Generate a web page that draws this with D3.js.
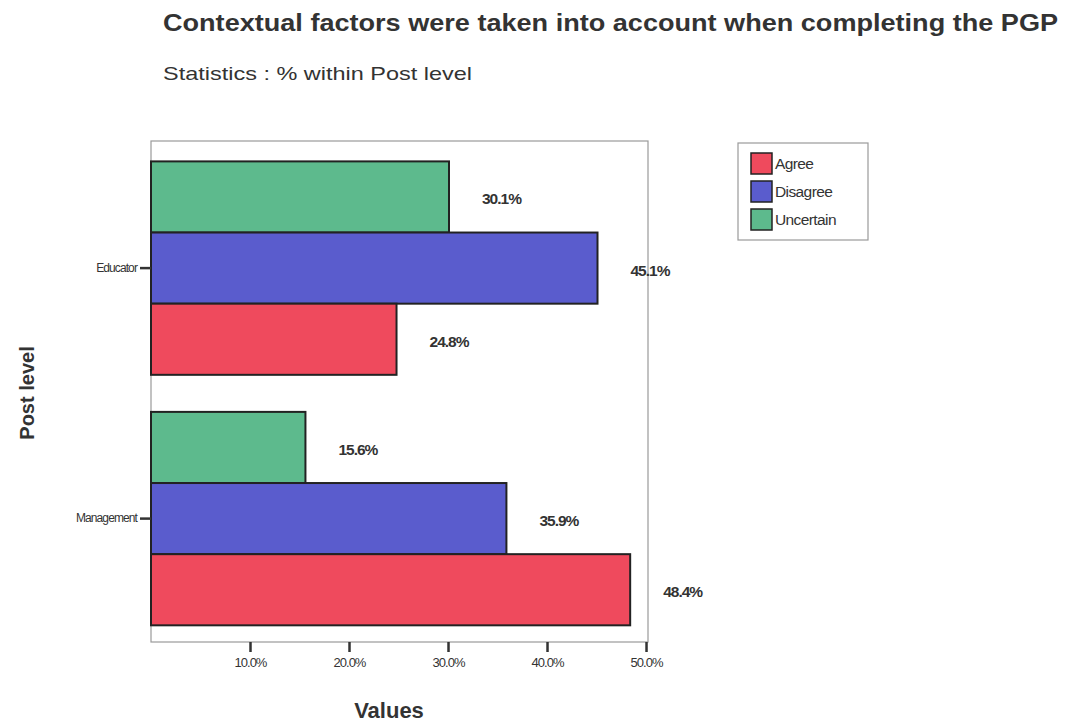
<!DOCTYPE html>
<html>
<head>
<meta charset="utf-8">
<script src="https://cdn.jsdelivr.net/npm/d3@7/dist/d3.min.js"></script>
<style>
  html, body { margin: 0; padding: 0; background: #ffffff; }
  svg { display: block; }
  text { font-family: "Liberation Sans", Arial, sans-serif; fill: #333; }
</style>
</head>
<body>
<svg id="chart" width="1069" height="722"></svg>
<script>
// Post levels (y categories) and response series
const postLevels = ["Educator", "Management"];
const responses = ["Uncertain", "Disagree", "Agree"];   // top-to-bottom order inside each group
const legendOrder = ["Agree", "Disagree", "Uncertain"];

// % within Post level
const agree     = [24.8, 48.4];
const disagree  = [45.1, 35.9];
const uncertain = [30.1, 15.6];

const xTicks = [10, 20, 30, 40, 50];

const colors = { Agree: "#ef4a5d", Disagree: "#5a5ccd", Uncertain: "#5dba8d" };

const seriesValues = { Agree: agree, Disagree: disagree, Uncertain: uncertain };
const rows = [];
postLevels.forEach((p, i) => {
  responses.forEach(r => rows.push({ level: p, response: r, value: seriesValues[r][i] }));
});

const svg = d3.select("#chart");
const frame = { left: 151, right: 648, top: 141, bottom: 642 };

const x = d3.scaleLinear().domain([0, 50.2]).range([frame.left, frame.right]);
const y0 = d3.scaleBand().domain(postLevels).range([frame.top, frame.bottom])
  .paddingInner(0.148).paddingOuter(0.074).align(0.55);
const y1 = d3.scaleBand().domain(responses).range([0, y0.bandwidth()]);

// Title and subtitle
svg.append("text").attr("x", 163).attr("y", 31)
  .attr("font-size", 23).attr("font-weight", "bold")
  .attr("textLength", 895).attr("lengthAdjust", "spacingAndGlyphs")
  .text("Contextual factors were taken into account when completing the PGP");
svg.append("text").attr("x", 163).attr("y", 80)
  .attr("font-size", 19)
  .attr("textLength", 309).attr("lengthAdjust", "spacingAndGlyphs")
  .text("Statistics : % within Post level");

// Plot frame
svg.append("rect")
  .attr("x", frame.left).attr("y", frame.top)
  .attr("width", frame.right - frame.left).attr("height", frame.bottom - frame.top)
  .attr("fill", "#fff").attr("stroke", "#9a9a9a").attr("stroke-width", 1.2);

// Bars
const groups = svg.append("g").selectAll("g")
  .data(postLevels).join("g")
  .attr("transform", d => `translate(0,${y0(d)})`);

groups.selectAll("rect")
  .data(d => rows.filter(r => r.level === d))
  .join("rect")
  .attr("x", x(0))
  .attr("y", d => y1(d.response))
  .attr("width", d => x(d.value) - x(0))
  .attr("height", y1.bandwidth())
  .attr("fill", d => colors[d.response])
  .attr("stroke", "#222")
  .attr("stroke-width", 2);

// Value labels
groups.selectAll("text.val")
  .data(d => rows.filter(r => r.level === d))
  .join("text")
  .attr("class", "val")
  .attr("x", d => x(d.value) + 33)
  .attr("y", d => y1(d.response) + y1.bandwidth() / 2 + 2)
  .attr("dy", "0.35em")
  .attr("font-size", 15.5).attr("font-weight", "bold")
  .attr("letter-spacing", -1)
  .text(d => d.value.toFixed(1) + "%");

// X axis
const xAxis = svg.append("g")
  .attr("transform", `translate(0,${frame.bottom})`)
  .call(d3.axisBottom(x).tickValues(xTicks).tickSize(10).tickPadding(6)
    .tickFormat(d => d.toFixed(1) + "%"));
xAxis.select(".domain").remove();
xAxis.selectAll("line").attr("stroke", "#333").attr("stroke-width", 2.5);
xAxis.selectAll("text").attr("font-size", 13).attr("fill", "#333")
  .attr("letter-spacing", -1).attr("font-family", "Liberation Sans, Arial, sans-serif");

// Y axis
const yAxis = svg.append("g")
  .attr("transform", `translate(${frame.left},0)`)
  .call(d3.axisLeft(y0).tickSize(11).tickPadding(3));
yAxis.select(".domain").remove();
yAxis.selectAll("line").attr("stroke", "#333").attr("stroke-width", 2.5);
yAxis.selectAll("text").attr("font-size", 12).attr("fill", "#333")
  .attr("letter-spacing", -0.9).attr("font-family", "Liberation Sans, Arial, sans-serif");

// Axis titles
svg.append("text").attr("x", 389).attr("y", 718)
  .attr("text-anchor", "middle").attr("font-size", 22).attr("font-weight", "bold")
  .text("Values");
svg.append("text")
  .attr("transform", "translate(34,393) rotate(-90)")
  .attr("text-anchor", "middle").attr("font-size", 20).attr("font-weight", "bold")
  .text("Post level");

// Legend
const legend = svg.append("g").attr("transform", "translate(738,143)");
legend.append("rect").attr("width", 130).attr("height", 97)
  .attr("fill", "#fff").attr("stroke", "#9a9a9a").attr("stroke-width", 1.2);
const item = legend.selectAll("g.item").data(legendOrder).join("g")
  .attr("class", "item")
  .attr("transform", (d, i) => `translate(13,${10 + i * 28})`);
item.append("rect").attr("width", 21).attr("height", 21)
  .attr("fill", d => colors[d]).attr("stroke", "#222").attr("stroke-width", 1.5);
item.append("text").attr("x", 24).attr("y", 11).attr("dy", "0.35em")
  .attr("font-size", 15.5).attr("letter-spacing", -0.6)
  .text(d => d);
</script>
</body>
</html>
